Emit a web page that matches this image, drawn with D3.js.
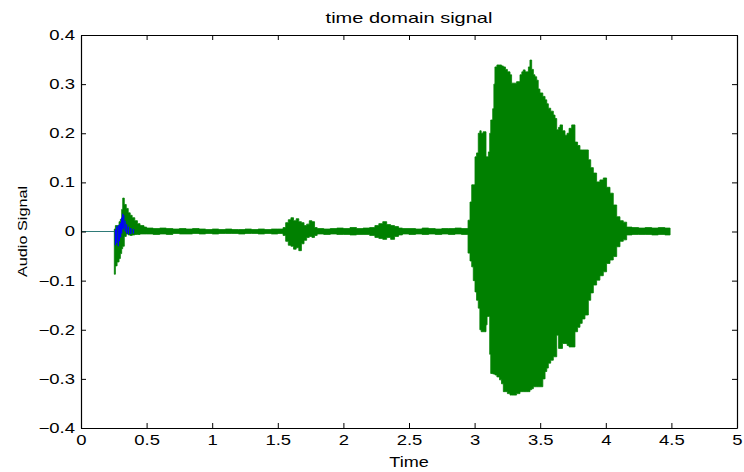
<!DOCTYPE html>
<html>
<head>
<meta charset="utf-8">
<script src="https://cdn.jsdelivr.net/npm/d3@7"></script>
<style>
  body { margin: 0; background: #fff; }
  svg text { font-family: "Liberation Sans", Arial, sans-serif; fill: #000; }
</style>
</head>
<body>
<svg id="chart"></svg>
<script>
// silent lead-in before the first click (both channels sit on zero)
const leadTime = [0, 0.254];
const leadValue = [0, 0];

// green channel envelope (time, upper, lower)
const greenTime = [
  0.254, 0.262, 0.275, 0.29, 0.30, 0.31, 0.318, 0.33, 0.345, 0.36, 0.375, 0.39, 0.41, 0.43, 0.45, 0.48,
  0.5, 0.55, 0.6, 0.65, 0.7, 0.75, 0.8, 0.85, 0.9, 0.95, 1.0, 1.05, 1.1, 1.15, 1.2, 1.25, 1.3, 1.35, 1.4, 1.45, 1.5,
  1.54, 1.56, 1.58, 1.6, 1.62, 1.64, 1.66, 1.68, 1.70, 1.72, 1.74, 1.76, 1.78,
  1.8, 1.85, 1.9, 1.95, 2.0, 2.05, 2.1, 2.15, 2.2,
  2.24, 2.27, 2.3, 2.33, 2.36, 2.39, 2.42,
  2.45, 2.5, 2.55, 2.6, 2.65, 2.7, 2.75, 2.8, 2.85, 2.9,
  2.95, 2.965, 2.978, 2.99, 3.003, 3.015, 3.028, 3.04, 3.05, 3.065, 3.079, 3.087, 3.095, 3.105,
  3.115, 3.123, 3.138, 3.147, 3.155, 3.17, 3.19, 3.205, 3.219, 3.235, 3.25, 3.27, 3.282, 3.30,
  3.32, 3.346, 3.36, 3.371, 3.385, 3.397, 3.41, 3.422, 3.435, 3.448, 3.46, 3.473, 3.485, 3.498,
  3.52, 3.537, 3.55, 3.562, 3.58, 3.6, 3.613, 3.626, 3.64, 3.651, 3.67, 3.689, 3.705, 3.72, 3.74,
  3.765, 3.785, 3.803, 3.82, 3.841, 3.867, 3.885, 3.905, 3.93, 3.955, 3.981, 4.006, 4.032, 4.057,
  4.083, 4.108, 4.133, 4.159, 4.2, 4.25, 4.3, 4.35, 4.4, 4.45, 4.49
];
const greenUpper = [
  0.005, 0.012, 0.012, 0.02, 0.025, 0.045, 0.068, 0.055, 0.047, 0.038, 0.033, 0.028, 0.022, 0.016, 0.012, 0.009,
  0.007, 0.006, 0.007, 0.006, 0.005, 0.006, 0.005, 0.006, 0.005, 0.004, 0.005, 0.004, 0.005, 0.004, 0.004, 0.005, 0.004, 0.005, 0.004, 0.005, 0.005,
  0.008, 0.018, 0.024, 0.028, 0.022, 0.026, 0.02, 0.018, 0.012, 0.015, 0.022, 0.02, 0.008,
  0.006, 0.005, 0.006, 0.007, 0.006, 0.008, 0.006, 0.007, 0.008,
  0.012, 0.016, 0.02, 0.014, 0.012, 0.01, 0.007,
  0.006, 0.006, 0.005, 0.007, 0.006, 0.005, 0.006, 0.006, 0.007, 0.006,
  0.023, 0.06, 0.095, 0.095, 0.152, 0.16, 0.20, 0.205, 0.2, 0.203, 0.203, 0.152, 0.152, 0.162,
  0.2, 0.227, 0.25, 0.3, 0.335, 0.339, 0.339, 0.337, 0.335, 0.33, 0.325, 0.319, 0.302, 0.302,
  0.305, 0.319, 0.325, 0.329, 0.325, 0.325, 0.335, 0.349, 0.33, 0.319, 0.315, 0.308, 0.29, 0.282,
  0.275, 0.268, 0.26, 0.251, 0.245, 0.237, 0.23, 0.207, 0.212, 0.217, 0.205, 0.196, 0.2, 0.21, 0.217,
  0.182, 0.175, 0.166, 0.166, 0.166, 0.146, 0.13, 0.119, 0.101, 0.105, 0.109, 0.09, 0.078, 0.054,
  0.03, 0.022, 0.019, 0.009, 0.008, 0.007, 0.008, 0.007, 0.008, 0.007, 0.003
];
const greenLower = [
  -0.087, -0.07, -0.062, -0.055, -0.045, -0.035, -0.03, -0.01, -0.005, -0.007, -0.008, -0.007, -0.006, -0.006, -0.005, -0.005,
  -0.005, -0.006, -0.005, -0.006, -0.004, -0.005, -0.005, -0.004, -0.005, -0.004, -0.005, -0.004, -0.004, -0.004, -0.005, -0.004, -0.004, -0.005, -0.004, -0.005, -0.004,
  -0.008, -0.02, -0.028, -0.03, -0.036, -0.033, -0.039, -0.025, -0.018, -0.012, -0.01, -0.012, -0.008,
  -0.005, -0.006, -0.005, -0.006, -0.006, -0.007, -0.006, -0.006, -0.008,
  -0.012, -0.014, -0.016, -0.012, -0.016, -0.01, -0.007,
  -0.005, -0.006, -0.005, -0.006, -0.005, -0.006, -0.005, -0.006, -0.005, -0.006,
  -0.044, -0.06, -0.072, -0.1, -0.123, -0.14, -0.156, -0.2, -0.204, -0.204, -0.204, -0.19, -0.173, -0.173,
  -0.25, -0.289, -0.29, -0.29, -0.292, -0.296, -0.302, -0.31, -0.326, -0.326, -0.33, -0.333, -0.333, -0.333,
  -0.33, -0.326, -0.326, -0.326, -0.326, -0.326, -0.326, -0.322, -0.32, -0.316, -0.316, -0.316, -0.316, -0.316,
  -0.3, -0.285, -0.278, -0.268, -0.262, -0.255, -0.255, -0.211, -0.238, -0.238, -0.228, -0.228, -0.232, -0.235, -0.235,
  -0.204, -0.195, -0.187, -0.178, -0.17, -0.14, -0.125, -0.109, -0.099, -0.09, -0.082, -0.065, -0.058, -0.051,
  -0.031, -0.02, -0.017, -0.007, -0.006, -0.006, -0.006, -0.007, -0.006, -0.007, -0.003
];

// blue channel, only visible around the first click (drawn as short strokes)
const blueTime = [0.262, 0.272, 0.284, 0.292, 0.302, 0.31, 0.318, 0.326, 0.336, 0.348, 0.362, 0.38, 0.4];
const blueUpper = [0.004, 0.01, 0.012, 0.014, 0.018, 0.028, 0.036, 0.033, 0.022, 0.015, 0.01, 0.007, 0.005];
const blueLower = [-0.028, -0.024, -0.03, -0.02, -0.012, -0.004, 0.004, 0.006, 0.0, -0.004, -0.006, -0.005, -0.004];

const xTicks = [0, 0.5, 1, 1.5, 2, 2.5, 3, 3.5, 4, 4.5, 5];
const yTicks = [-0.4, -0.3, -0.2, -0.1, 0, 0.1, 0.2, 0.3, 0.4];

const WIDTH = 744;
const HEIGHT = 472;
const margin = { top: 35, right: 7, bottom: 44, left: 81 };
const innerW = WIDTH - margin.left - margin.right;
const innerH = HEIGHT - margin.top - margin.bottom;
const TICK_STRETCH = 1.32; // the original text is rendered wide

const svg = d3.select("#chart").attr("width", WIDTH).attr("height", HEIGHT);
const g = svg.append("g").attr("transform", `translate(${margin.left},${margin.top})`);

const x = d3.scaleLinear().domain([0, 5]).range([0, innerW]);
const y = d3.scaleLinear().domain([-0.4, 0.4]).range([innerH, 0]);

// zip helper
function rows(t, up, lo) {
  return t.map((d, i) => ({ t: d, up: up[i], lo: lo[i] }));
}

const area = d3.area()
  .x((d) => x(d.t))
  .y0((d) => y(d.lo))
  .y1((d) => y(d.up))
  .curve(d3.curveStepAfter);

// lead-in line (blue and green overlapping -> teal)
g.append("path")
  .datum(leadTime.map((t, i) => ({ t: t, v: leadValue[i] })))
  .attr("d", d3.line().x((d) => x(d.t)).y((d) => y(d.v)))
  .attr("fill", "none")
  .attr("stroke", "#2f7a78")
  .attr("stroke-width", 1);

g.append("path")
  .datum(rows(greenTime, greenUpper, greenLower))
  .attr("d", area)
  .attr("fill", "#008000")
  .attr("stroke", "#008000")
  .attr("stroke-width", 0.8);

g.append("g")
  .selectAll("line")
  .data(rows(blueTime, blueUpper, blueLower))
  .enter()
  .append("line")
  .attr("x1", (d) => x(d.t))
  .attr("x2", (d) => x(d.t))
  .attr("y1", (d) => y(d.lo))
  .attr("y2", (d) => y(d.up))
  .attr("stroke", "#0000ff")
  .attr("stroke-width", 1.3);

// axes, ticks pointing inwards on all four sides
const xb = g.append("g").attr("transform", `translate(0,${innerH})`)
  .call(d3.axisBottom(x).tickValues(xTicks).tickSizeInner(-5).tickSizeOuter(0).tickPadding(7)
    .tickFormat(d3.format("")));
const xt = g.append("g")
  .call(d3.axisTop(x).tickValues(xTicks).tickSizeInner(-5).tickSizeOuter(0).tickFormat(""));
const yl = g.append("g")
  .call(d3.axisLeft(y).tickValues(yTicks).tickSizeInner(-5).tickSizeOuter(0).tickPadding(6)
    .tickFormat(d3.format("")));
const yr = g.append("g").attr("transform", `translate(${innerW},0)`)
  .call(d3.axisRight(y).tickValues(yTicks).tickSizeInner(-5).tickSizeOuter(0).tickFormat(""));

[xb, xt, yl, yr].forEach((a) => {
  a.select(".domain").attr("stroke", "#000").attr("stroke-width", 1.2);
  a.selectAll(".tick line").attr("stroke", "#000");
  a.selectAll("text").attr("font-size", 14).attr("font-family", null)
    .attr("transform", `scale(${TICK_STRETCH},1)`);
});
// undo the stretch on the label offset of the left axis
yl.selectAll(".tick text").attr("x", -6 / TICK_STRETCH);

svg.append("text")
  .attr("transform", `translate(${margin.left + innerW / 2},23) scale(1.43,1)`)
  .attr("text-anchor", "middle")
  .attr("font-size", 14)
  .text("time domain signal");

svg.append("text")
  .attr("transform", `translate(${margin.left + innerW / 2},467) scale(1.29,1)`)
  .attr("text-anchor", "middle")
  .attr("font-size", 14)
  .text("Time");

svg.append("text")
  .attr("transform", `translate(27,${margin.top + innerH / 2}) rotate(-90) scale(1.25,1)`)
  .attr("text-anchor", "middle")
  .attr("font-size", 13)
  .text("Audio Signal");
</script>
</body>
</html>
